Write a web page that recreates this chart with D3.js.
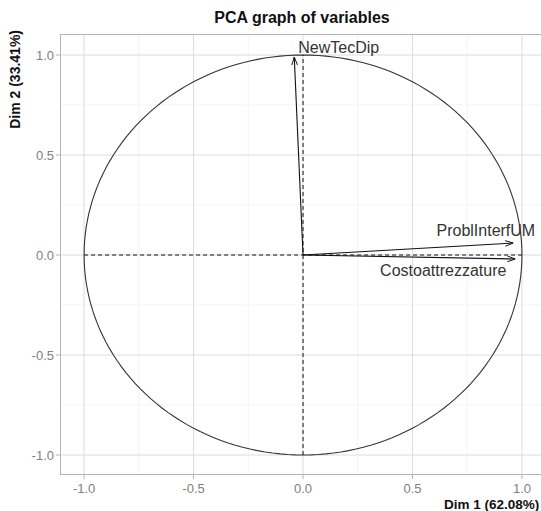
<!DOCTYPE html>
<html><head><meta charset="utf-8">
<script src="https://cdn.jsdelivr.net/npm/d3@7"></script>
<style>body{margin:0;background:#fff}</style>
</head><body>
<svg id="c" width="541" height="511"></svg>
<script>
const variables = ["NewTecDip", "ProblInterfUM", "Costoattrezzature"];
const dim1 = [-0.04, 0.96, 0.97];
const dim2 = [0.99, 0.06, -0.02];
const xTicks = [-1.0, -0.5, 0.0, 0.5, 1.0];
const yTicks = [-1.0, -0.5, 0.0, 0.5, 1.0];
const minorTicks = [-0.75, -0.25, 0.25, 0.75];
const title = "PCA graph of variables";
const xTitle = "Dim 1 (62.08%)";
const yTitle = "Dim 2 (33.41%)";

const svg = d3.select("#c");
const L = 60, R = 541, T = 34, B = 475;
const x = d3.scaleLinear().domain([-1.11, 1.087]).range([L, R]);
const y = d3.scaleLinear().domain([-1.1, 1.105]).range([B, T]);
const FF = "Liberation Sans, Arial, sans-serif";
const fmt = d => d3.format(".1f")(d).replace("\u2212", "-");

const defs = svg.append("defs");
defs.append("clipPath").attr("id","clip").append("rect").attr("x",L).attr("y",T).attr("width",R-L).attr("height",B-T);
defs.append("marker").attr("id","ah").attr("viewBox","0 0 10 10").attr("refX",10).attr("refY",5)
  .attr("markerWidth",8).attr("markerHeight",8).attr("markerUnits","userSpaceOnUse").attr("orient","auto")
  .append("path").attr("d","M0,1.5 L10,5 L0,8.5").attr("fill","none").attr("stroke","#111").attr("stroke-width",1.2);

const g = svg.append("g").attr("clip-path","url(#clip)");
g.selectAll(".mx").data(minorTicks).join("line").attr("x1",d=>x(d)).attr("x2",d=>x(d)).attr("y1",T).attr("y2",B)
  .attr("stroke","#ececec").attr("stroke-width",0.6);
g.selectAll(".my").data(minorTicks).join("line").attr("y1",d=>y(d)).attr("y2",d=>y(d)).attr("x1",L).attr("x2",R)
  .attr("stroke","#ececec").attr("stroke-width",0.6);
g.selectAll(".gx").data(xTicks).join("line").attr("x1",d=>x(d)).attr("x2",d=>x(d)).attr("y1",T).attr("y2",B)
  .attr("stroke","#dcdcdc").attr("stroke-width",1);
g.selectAll(".gy").data(yTicks).join("line").attr("y1",d=>y(d)).attr("y2",d=>y(d)).attr("x1",L).attr("x2",R)
  .attr("stroke","#dcdcdc").attr("stroke-width",1);

svg.append("rect").attr("x",L+0.5).attr("y",T+0.5).attr("width",R-L).attr("height",B-T-1)
  .attr("fill","none").attr("stroke","#b3b3b3").attr("stroke-width",1);

const circ = d3.range(0, 361, 2).map(a => [Math.cos(a*Math.PI/180), Math.sin(a*Math.PI/180)]);
g.append("path").datum(circ).attr("d", d3.line().x(d=>x(d[0])).y(d=>y(d[1])))
  .attr("fill","none").attr("stroke","#333").attr("stroke-width",1.1);

g.append("line").attr("x1",x(-1)).attr("x2",x(1)).attr("y1",y(0)).attr("y2",y(0))
  .attr("stroke","#111").attr("stroke-dasharray","4,3").attr("stroke-width",1);
g.append("line").attr("x1",x(0)).attr("x2",x(0)).attr("y1",y(-1)).attr("y2",y(1))
  .attr("stroke","#111").attr("stroke-dasharray","4,3").attr("stroke-width",1);

const data = variables.map((v,i)=>({v, a:dim1[i], b:dim2[i]}));
g.selectAll(".arr").data(data).join("line").attr("x1",x(0)).attr("y1",y(0))
  .attr("x2",d=>x(d.a)).attr("y2",d=>y(d.b)).attr("stroke","#111").attr("stroke-width",1.1)
  .attr("marker-end","url(#ah)");

const lab = {NewTecDip:{dx:4,dy:-4,anchor:"start"}, ProblInterfUM:{dx:22,dy:-7,anchor:"end"}, Costoattrezzature:{dx:-9,dy:17,anchor:"end"}};
svg.selectAll(".lbl").data(data).join("text")
  .attr("x",d=>x(d.a)+lab[d.v].dx).attr("y",d=>y(d.b)+lab[d.v].dy)
  .attr("text-anchor",d=>lab[d.v].anchor)
  .attr("font-family",FF).attr("font-size",16).attr("fill","#333")
  .text(d=>d.v);

svg.selectAll(".xt").data(xTicks).join("line").attr("x1",d=>x(d)).attr("x2",d=>x(d)).attr("y1",B).attr("y2",B+4)
  .attr("stroke","#b3b3b3");
svg.selectAll(".xl").data(xTicks).join("text").attr("x",d=>x(d)).attr("y",B+18).attr("text-anchor","middle")
  .attr("font-family",FF).attr("font-size",13).attr("fill","#808080")
  .text(fmt);
svg.selectAll(".yt").data(yTicks).join("line").attr("y1",d=>y(d)).attr("y2",d=>y(d)).attr("x1",L-4).attr("x2",L)
  .attr("stroke","#b3b3b3");
svg.selectAll(".yl").data(yTicks).join("text").attr("x",L-6).attr("y",d=>y(d)+4.5).attr("text-anchor","end")
  .attr("font-family",FF).attr("font-size",13).attr("fill","#808080")
  .text(fmt);

svg.append("text").attr("x",302).attr("y",23).attr("text-anchor","middle")
  .attr("font-family",FF).attr("font-size",16).attr("font-weight","bold").attr("fill","#111")
  .text(title);
svg.append("text").attr("x",444).attr("y",508.5).attr("text-anchor","start")
  .attr("font-family",FF).attr("font-size",13.5).attr("font-weight","bold").attr("fill","#111")
  .text(xTitle);
svg.append("text").attr("transform",`translate(20,30) rotate(-90)`).attr("text-anchor","end")
  .attr("font-family",FF).attr("font-size",14).attr("font-weight","bold").attr("fill","#111")
  .text(yTitle);
</script>
</body></html>
